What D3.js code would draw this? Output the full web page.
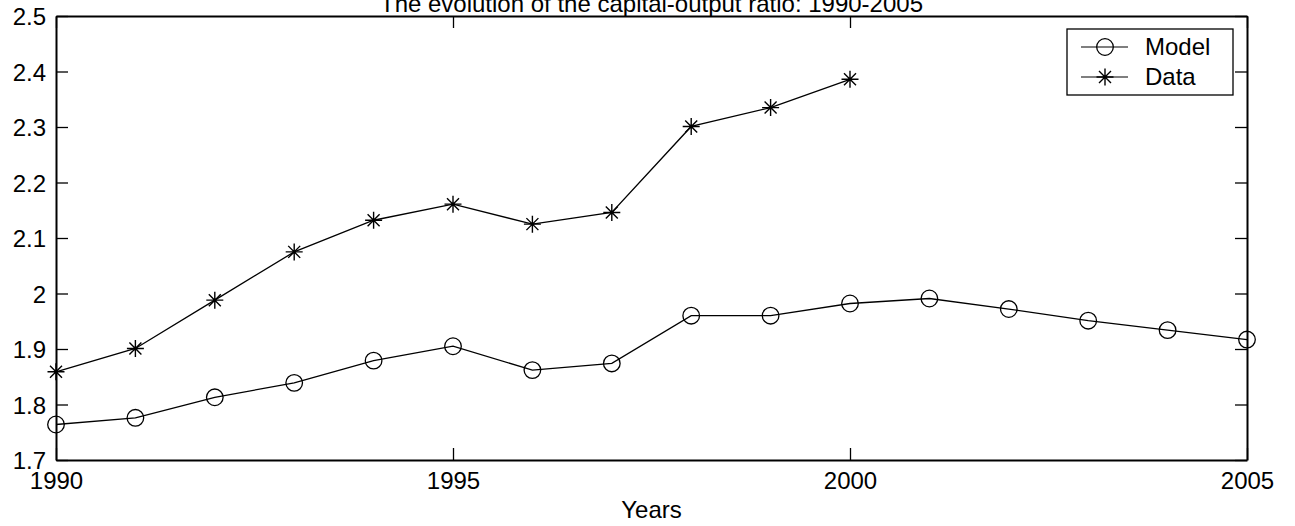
<!DOCTYPE html>
<html><head><meta charset="utf-8">
<script src="https://cdn.jsdelivr.net/npm/d3@7"></script>
<style>body{margin:0;background:#fff;}svg{display:block;font-family:"Liberation Sans",Arial,sans-serif;}</style>
</head><body><svg id="c" width="1295" height="526"></svg>
<script>
const years = [1990,1991,1992,1993,1994,1995,1996,1997,1998,1999,2000,2001,2002,2003,2004,2005];
const modelValues = [1.764,1.776,1.813,1.839,1.879,1.905,1.862,1.874,1.960,1.960,1.982,1.991,1.972,1.951,1.934,1.917];
const dataYears = [1990,1991,1992,1993,1994,1995,1996,1997,1998,1999,2000];
const dataValues = [1.859,1.901,1.988,2.075,2.132,2.161,2.125,2.146,2.301,2.335,2.386];
const xTicks = [1990,1995,2000,2005];
const yTicks = [1.7,1.8,1.9,2.0,2.1,2.2,2.3,2.4,2.5];
const yTickLabels = ["1.7","1.8","1.9","2","2.1","2.2","2.3","2.4","2.5"];
const title = "The evolution of the capital-output ratio: 1990-2005";
const xLabel = "Years";
const legendNames = ["Model","Data"];

const L=56,R=1247,T=16,B=460;
const svg=d3.select("#c");
const x=d3.scaleLinear().domain([1990,2005]).range([L,R]);
const y=d3.scaleLinear().domain([1.7,2.5]).range([B,T]);
const tl=12, fs=24;

// axes
const axB=svg.append("g").attr("transform",`translate(0,${B})`).call(d3.axisBottom(x).tickValues(xTicks).tickFormat(d3.format("d")).tickSizeInner(-tl).tickSizeOuter(0).tickPadding(12));
const axT=svg.append("g").attr("transform",`translate(0,${T})`).call(d3.axisTop(x).tickValues(xTicks).tickFormat("").tickSizeInner(-tl).tickSizeOuter(0));
const axL=svg.append("g").attr("transform",`translate(${L},0)`).call(d3.axisLeft(y).tickValues(yTicks).tickFormat((d,i)=>yTickLabels[i]).tickSizeInner(-tl).tickSizeOuter(0).tickPadding(10));
const axR=svg.append("g").attr("transform",`translate(${R},0)`).call(d3.axisRight(y).tickValues(yTicks).tickFormat("").tickSizeInner(-tl).tickSizeOuter(0));
[axB,axT,axL,axR].forEach(a=>{
  a.selectAll(".domain").attr("stroke","#000").attr("stroke-width",2);
  a.selectAll(".tick line").attr("stroke","#000").attr("stroke-width",1.3);
  a.selectAll("text").attr("font-size",fs).attr("fill","#000").attr("font-family","Liberation Sans, Arial, sans-serif");
});
axL.selectAll("text").attr("dy","0.36em");

// lines
const line=d3.line().x(d=>x(d[0])).y(d=>y(d[1]));
const mPts=years.map((yr,i)=>[yr,modelValues[i]]);
const dPts=dataYears.map((yr,i)=>[yr,dataValues[i]]);
svg.append("path").datum(mPts).attr("d",line).attr("fill","none").attr("stroke","#000").attr("stroke-width",1.3);
svg.append("path").datum(dPts).attr("d",line).attr("fill","none").attr("stroke","#000").attr("stroke-width",1.3);

function circleMark(g,cx,cy){g.append("circle").attr("cx",cx).attr("cy",cy).attr("r",8.3).attr("fill","none").attr("stroke","#000").attr("stroke-width",1.3);}
function starMark(g,cx,cy){
  const s=8.5,d=6;
  const p=`M${cx-s},${cy}L${cx+s},${cy}M${cx},${cy-s}L${cx},${cy+s}M${cx-d},${cy-d}L${cx+d},${cy+d}M${cx-d},${cy+d}L${cx+d},${cy-d}`;
  g.append("path").attr("d",p).attr("stroke","#000").attr("stroke-width",1.4).attr("fill","none");
}
const mg=svg.append("g");
mPts.forEach(p=>circleMark(mg,x(p[0]),y(p[1])));
const dg=svg.append("g");
dPts.forEach(p=>starMark(dg,x(p[0]),y(p[1])));

// title & label
svg.append("text").attr("x",(L+R)/2).attr("y",12).attr("text-anchor","middle").attr("font-size",fs).text(title);
svg.append("text").attr("x",(L+R)/2).attr("y",518).attr("text-anchor","middle").attr("font-size",fs).text(xLabel);

// legend
const lg=svg.append("g");
lg.append("rect").attr("x",1067).attr("y",29).attr("width",166).attr("height",66).attr("fill","#fff").attr("stroke","#000").attr("stroke-width",1.3);
const rows=[47,77];
rows.forEach((ry,i)=>{
  lg.append("line").attr("x1",1081).attr("x2",1128).attr("y1",ry).attr("y2",ry).attr("stroke","#000").attr("stroke-width",1.2);
  if(i===0) circleMark(lg,1105,ry); else starMark(lg,1105,ry);
  lg.append("text").attr("x",1145).attr("y",ry+8).attr("font-size",fs).text(legendNames[i]);
});
</script></body></html>
